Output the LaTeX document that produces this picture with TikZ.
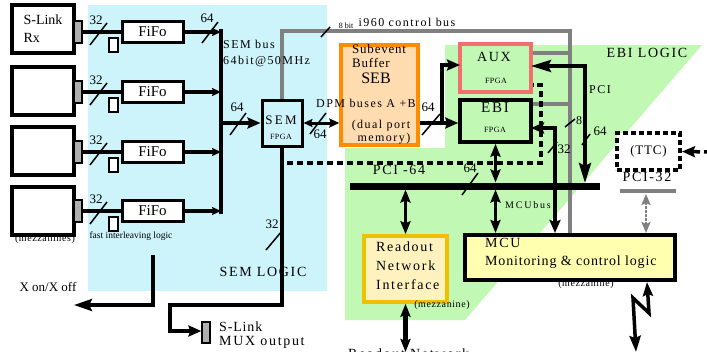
\documentclass[tikz,border=0pt]{standalone}
\usepackage{fontspec}
\setmainfont{Liberation Serif}
\newfontfamily\lsa[LetterSpace=6]{Liberation Serif}
\newfontfamily\lsb[LetterSpace=12]{Liberation Serif}
\newfontfamily\lsc[LetterSpace=18]{Liberation Serif}
\usetikzlibrary{arrows.meta,calc}
\definecolor{cyanbg}{RGB}{206,244,251}
\definecolor{greenbg}{RGB}{192,248,180}
\definecolor{sebfill}{RGB}{255,220,176}
\definecolor{sebline}{RGB}{255,140,0}
\definecolor{auxline}{RGB}{240,112,112}
\definecolor{rofill}{RGB}{255,242,190}
\definecolor{roline}{RGB}{240,192,0}
\definecolor{mcufill}{RGB}{255,255,175}
\definecolor{busgrey}{RGB}{128,128,128}
\definecolor{conngrey}{RGB}{175,175,175}
\begin{document}
\begin{tikzpicture}[x=1pt,y=-1pt,
  lab/.style={inner sep=0pt},
  box/.style={draw,line width=3.5pt,fill=white,inner sep=0pt},
  slbox/.style={box,minimum width=62pt,minimum height=48pt},
  fifo/.style={draw,line width=3pt,fill=white,minimum width=61pt,minimum height=21pt,inner sep=0pt,font={\fontsize{15}{16}\selectfont}},
  conn/.style={draw,line width=1.2pt,fill=conngrey,minimum width=8pt,minimum height=22pt,inner sep=0pt},
  smallbox/.style={draw,line width=2.5pt,fill=white,minimum width=9pt,minimum height=14pt,inner sep=0pt},
  wire/.style={line width=3.5pt},
  gwire/.style={line width=3.5pt,draw=busgrey},
  slashm/.style={line width=1.5pt},
  arS/.style={-{Stealth[length=9pt,width=8pt,inset=1.5pt]}},
  arM/.style={-{Stealth[length=13pt,width=11pt,inset=2pt]}},
  arB/.style={-{Stealth[length=18pt,width=12pt,inset=3pt]}},
  darM/.style={{Stealth[length=13pt,width=10pt,inset=2pt]}-{Stealth[length=13pt,width=10pt,inset=2pt]}},
  f13/.style={lab,font={\fontsize{13}{15}\selectfont}},
  f12s/.style={lab,font={\lsb\fontsize{12}{15}\selectfont}},
  f10s/.style={lab,font={\lsa\fontsize{10}{12}\selectfont}},
  fpga/.style={lab,font={\lsa\fontsize{8}{9}\selectfont}}
]
\useasboundingbox (0,0) rectangle (707,351);
% background regions
\fill[cyanbg] (88,5) rectangle (327,291);
\fill[greenbg] (345,148) -- (445,148) -- (445,45) -- (702,45) -- (465,320) -- (345,320) -- cycle;

% labels partly hidden under boxes
\node[f10s] at (45,239) {(mezzanines)};
\node[f10s] at (586,284) {(mezzanine)};

% S-Link receivers
\node[slbox,align=left,font={\fontsize{14}{18}\selectfont}] (sl1) at (43,29) {S-Link\\Rx};
\node[slbox] (sl2) at (43,91) {};
\node[slbox] (sl3) at (43,151) {};
\node[slbox] (sl4) at (43,211) {};
\node[conn] (c1) at (78,32) {};
\node[conn] (c2) at (78,92) {};
\node[conn] (c3) at (78,152) {};
\node[conn] (c4) at (78,211) {};
\node[fifo] (f1) at (152.5,32) {FiFo};
\node[fifo] (f2) at (152.5,92) {FiFo};
\node[fifo] (f3) at (152.5,152) {FiFo};
\node[fifo] (f4) at (152.5,211) {FiFo};
\node[smallbox] (s1) at (113.5,45) {};
\node[smallbox] (s2) at (113.5,105) {};
\node[smallbox] (s3) at (113.5,165) {};
\node[smallbox] (s4) at (113.5,224) {};

% main boxes
\node[draw,line width=3pt,minimum width=40pt,minimum height=46pt,inner sep=0pt] (sem) at (282,123) {};
\node[draw=sebline,fill=sebfill,line width=3.5pt,minimum width=77pt,minimum height=100pt,inner sep=0pt] (seb) at (379.5,95) {};
\node[draw=auxline,fill=greenbg,line width=3.5pt,minimum width=71pt,minimum height=48pt,inner sep=0pt] (aux) at (495.5,68) {};
\node[box,fill=greenbg,minimum width=71pt,minimum height=42pt] (ebi) at (495.5,121) {};
\node[draw=roline,fill=rofill,line width=3.5pt,minimum width=83pt,minimum height=66pt,inner sep=0pt] (ro) at (405.5,269) {};
\node[draw,fill=mcufill,line width=4pt,minimum width=210pt,minimum height=45pt,inner sep=0pt] (mcu) at (570,257.5) {};
\node[draw,fill=white,line width=4pt,dash pattern=on 5pt off 3pt,minimum width=63pt,minimum height=37pt,inner sep=0pt,font={\lsa\fontsize{13}{15}\selectfont}] (ttc) at (648.5,151.5) {(TTC)};
\node[conn,minimum height=21pt] (mux) at (206,332.5) {};

% coordinates
\coordinate (busx) at (221,0);
\coordinate (bustop) at (221,29);
\coordinate (busbot) at (221,214);
\coordinate (g1) at (282,31);
\coordinate (g2) at (570,31);
\coordinate (ga) at (570,53);
\coordinate (gb) at (570,104);
\coordinate (sj) at (442,123);
\coordinate (auxw) at (460,65);
\coordinate (auxe) at (531,66);
\coordinate (pcix) at (585,183);
\coordinate (ebie) at (531,128);
\coordinate (x555) at (555,0);
\coordinate (pciL) at (350,186);
\coordinate (pciR) at (600,186);
\coordinate (busT) at (0,182.5);
\coordinate (busB) at (0,189.5);
\coordinate (d1) at (287,163);
\coordinate (d2) at (541,163);
\coordinate (d3) at (541,85);
\coordinate (ttcin) at (712,152);
\coordinate (p32a) at (620,191);
\coordinate (p32b) at (676,191);
\coordinate (x646) at (646,0);
\coordinate (x647) at (647,0);
\coordinate (lz1) at (649,313);
\coordinate (lz2) at (633,298);
\coordinate (lz3) at (636,352);
\coordinate (rob) at (405.5,352);
\coordinate (sb1) at (282,305);
\coordinate (sb2) at (170,305);
\coordinate (sb3) at (170,331);
\coordinate (xo1) at (153,255);
\coordinate (xo2) at (153,305);
\coordinate (xo3) at (74,305);

% S-Link -> FiFo -> SEM bus
\foreach \i in {1,2,3,4}{
  \draw[wire] (c\i.east) -- (f\i.west);
  \draw[wire,arS] (f\i.east) -- (f\i.east -| busx);
}
\draw[line width=4pt] (bustop) -- (busbot);
\foreach \y in {32,92,152,211}{
  \draw[slashm] (90,\y+13) -- (107,\y-9);
  \node[f13] at (96,\y-12) {32};
}
\draw[slashm] (202,43) -- (218,22);
\node[f13] at (207,18) {64};

% SEM bus -> SEM
\draw[wire,arM] (sem.west -| busx) -- (sem.west);
\draw[slashm] (230,135) -- (246,113);
\node[f13] at (237,107) {64};

% SEM <-> SEB
\draw[line width=3pt,{Stealth[length=9pt,width=8pt,inset=1.5pt]}-{Stealth[length=10pt,width=9pt,inset=1.5pt]}] (sem.east) -- (seb.west |- sem.east);
\draw[slashm] (310,134) -- (326,113);
\node[f13] at (320,134) {64};

% SEB -> EBI / AUX
\draw[wire,arM] (sj -| seb.east) -- (sj -| ebi.west);
\draw[wire,arM] (sj) |- (auxw);
\draw[slashm] (422,135) -- (440,114);
\node[f13] at (428,107) {64};

% grey i960 control bus
\draw[gwire] (sem.north) -- (g1) -- (g2) -- (mcu.north -| g2);
\draw[gwire] (ga -| aux.east) -- (ga);
\draw[gwire] (gb -| ebi.east) -- (gb);
\draw[slashm] (321,37) -- (330,27);
\node[lab,font={\fontsize{8}{9}\selectfont}] at (346,26) {8 bit};
\node[f12s] at (407,22) {i960 control bus};
\draw[slashm] (565,127) -- (575,119);
\node[lab,font={\fontsize{12}{14}\selectfont}] at (579,121) {8};

% PCI-64 bus
\draw[line width=7pt] (pciL) -- (pciR);
\draw[slashm] (462,195) -- (478,173);
\node[f13] at (470,168) {64};

% PCI (AUX)
\draw[wire,{Stealth[length=20pt,width=12pt,inset=3pt]}-{Stealth[length=20pt,width=12pt,inset=3pt]}] (auxe) -| (pcix);
\draw[slashm] (582,145) -- (590,134);
\node[f13] at (600,131) {64};

% EBI <-> MCU
\draw[wire,{Stealth[length=13pt,width=11pt,inset=2pt]}-{Stealth[length=13pt,width=11pt,inset=2pt]}] (ebie) -| (mcu.north -| x555);
\draw[slashm] (548,153) -- (557,142);
\node[f13] at (564,149) {32};

% dashed link
\draw[line width=4pt,dash pattern=on 6pt off 4pt] (d1) -- (d2) -- (d3) -- (d3 -| aux.east);

% vertical double arrows to the PCI-64 bus
\draw[wire,darM] (ro.north |- busB) -- (ro.north);
\draw[wire,darM] (ebi.south) -- (ebi.south |- busT);
\draw[wire,darM] (ebi.south |- busB) -- (ebi.south |- mcu.north);

% Readout network link
\draw[line width=5pt,darM] (ro.south) -- (rob);

% TTC and PCI-32
\draw[wire,dash pattern=on 8pt off 4pt,arM] (ttcin) -- (ttc.east);
\draw[line width=4pt,busgrey] (p32a) -- (p32b);
\draw[line width=2.5pt,busgrey,dash pattern=on 3pt off 1pt,{Stealth[length=11pt,width=9pt,inset=2pt]}-{Stealth[length=11pt,width=9pt,inset=2pt]}] (p32a -| x646) ++(0,3) -- (mcu.north -| x646);

% lightning link from MCU
\draw[wire,{Stealth[length=14pt,width=10pt,inset=2pt]}-{Stealth[length=16pt,width=11pt,inset=2pt]}] (mcu.south -| x647) -- (lz1) -- (lz2) -- (lz3);

% SEM output to S-Link MUX
\draw[wire,arM] (sem.south) -- (sb1) -- (sb2) -- (sb3) -- (mux.west |- sb3);
\draw[slashm] (266,250) -- (282,231);
\node[f13] at (272,224) {32};

% Xon/Xoff
\draw[wire,arB] (xo1) -- (xo2) -- (xo3);

% texts
\node[lab,anchor=west,font={\lsb\fontsize{12}{14}\selectfont}] at (223,44) {SEM bus};
\node[lab,anchor=west,font={\lsb\fontsize{12}{14}\selectfont}] at (223,61) {64bit@50MHz};
\node[lab,font={\lsc\fontsize{13}{15}\selectfont}] at (281,120) {SEM};
\node[fpga] at (281,137) {FPGA};
\node[lab,anchor=west,font={\lsa\fontsize{13}{15}\selectfont}] at (352,49) {Subevent};
\node[lab,anchor=west,font={\lsa\fontsize{13}{15}\selectfont}] at (352,63) {Buffer};
\node[lab,font={\fontsize{16}{18}\selectfont}] at (376,78) {SEB};
\node[f12s] at (366,103) {DPM buses A +B};
\node[f12s] at (381,126) {(dual port};
\node[f12s] at (384,139) {memory)};
\node[lab,font={\lsb\fontsize{14}{16}\selectfont}] at (494,57) {AUX};
\node[fpga] at (496,81) {FPGA};
\node[lab,font={\lsb\fontsize{15}{17}\selectfont}] at (495,108) {EBI};
\node[fpga] at (495,130) {FPGA};
\node[lab,font={\lsb\fontsize{14}{16}\selectfont}] at (647,53) {EBI LOGIC};
\node[f12s] at (600,90) {PCI};
\node[lab,font={\lsb\fontsize{14}{16}\selectfont}] at (399,170) {PCI -64};
\node[lab,font={\lsc\fontsize{10}{12}\selectfont}] at (528,205) {MCUbus};
\node[lab,font={\lsb\fontsize{14}{16}\selectfont}] at (647,177) {PCI-32};
\node[lab,anchor=west,align=left,font={\lsb\fontsize{14}{19}\selectfont}] at (376,266) {Readout\\Network\\Interface};
\node[f10s] at (442,305) {(mezzanine)};
\node[lab,anchor=west,font={\lsb\fontsize{14}{16}\selectfont}] at (485,243) {MCU};
\node[lab,anchor=west,font={\lsa\fontsize{14}{16}\selectfont}] at (485,262) {Monitoring \& control logic};
\node[lab,anchor=west,font={\lsa\fontsize{14}{16}\selectfont}] at (219,327) {S-Link};
\node[lab,anchor=west,font={\lsb\fontsize{14}{16}\selectfont}] at (219,342) {MUX output};
\node[lab,font={\fontsize{13}{15}\selectfont}] at (48,287) {X on/X off};
\node[lab,font={\fontsize{9.5}{11}\selectfont}] at (131,236) {fast interleaving logic};
\node[lab,font={\lsb\fontsize{14}{16}\selectfont}] at (263,272) {SEM LOGIC};
\node[lab,anchor=base west,font={\lsb\fontsize{14}{16}\selectfont}] at (348,358) {Readout Network};
\end{tikzpicture}
\end{document}
